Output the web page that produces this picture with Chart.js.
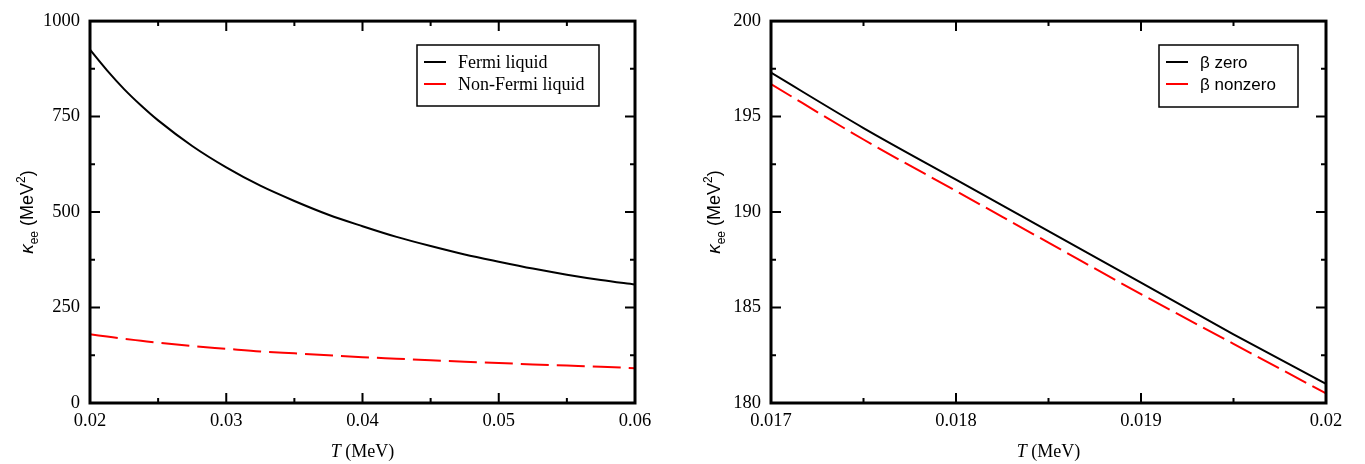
<!DOCTYPE html>
<html>
<head>
<meta charset="utf-8">
<script src="https://cdn.jsdelivr.net/npm/chart.js@4.4.0/dist/chart.umd.min.js"></script>
<style>
  body { margin: 0; background: #fff; }
  .box { position: absolute; top: 0; height: 464px; }
  #leftBox { left: 0; width: 682px; }
  #rightBox { left: 682px; width: 683px; }
</style>
</head>
<body>
<div class="box" id="leftBox"><canvas id="leftChart"></canvas></div>
<div class="box" id="rightBox"><canvas id="rightChart"></canvas></div>
<script>
// left panel data
const leftT = [0.02, 0.02125, 0.0225, 0.02375, 0.025, 0.0275, 0.03, 0.0325, 0.035, 0.0375, 0.04, 0.0425, 0.045, 0.0475, 0.05, 0.0525, 0.055, 0.0575, 0.06];
const fermiLiquid = [925, 871, 822, 779, 740, 673, 617, 569, 529, 493, 463, 435, 411, 389, 370, 352, 336, 322, 310];
const nonFermiLiquid = [180, 174, 168, 163, 158, 149, 142, 135, 130, 125, 120, 116, 112, 108, 105, 101, 98, 95, 91];
const leftXTicks = [0.02, 0.03, 0.04, 0.05, 0.06];
const leftYTicks = [0, 250, 500, 750, 1000];

// right panel data
const betaT = [0.017, 0.0175, 0.018, 0.0185, 0.019, 0.0195, 0.02];
const betaZero = [197.3, 194.4, 191.7, 189.0, 186.3, 183.6, 181.0];
const betaNonzero = [196.7, 193.8, 191.1, 188.4, 185.7, 183.1, 180.5];
const rightXTicks = [0.017, 0.018, 0.019, 0.02];
const rightYTicks = [180, 185, 190, 195, 200];

function pts(xs, ys) {
    var out = [];
    for (var i in xs) {
        out.push({x: xs[i], y: ys[i]});
    }
    return out;
}

const serif = '"Liberation Serif", "Times New Roman", serif';
const sans = '"Liberation Sans", Arial, sans-serif';

// frame with inward ticks, axis titles and legend box
const framePlugin = {
    id: 'frame',
    afterDatasetsDraw(chart, args, o) {
        const ctx = chart.ctx;
        const a = chart.chartArea;
        const xs = chart.scales.x, ys = chart.scales.y;
        ctx.save();
        ctx.strokeStyle = '#000';
        ctx.lineWidth = 3;
        ctx.strokeRect(a.left, a.top, a.right - a.left, a.bottom - a.top);

        ctx.lineWidth = 2;
        function tickSet(list) {
            var all = [];
            for (var i = 0; i < list.length; i++) {
                all.push([list[i], 10]);
                if (i < list.length - 1) all.push([(list[i] + list[i + 1]) / 2, 5]);
            }
            return all;
        }
        ctx.beginPath();
        tickSet(o.xTicks).forEach(function (t) {
            const px = xs.getPixelForValue(t[0]);
            ctx.moveTo(px, a.bottom); ctx.lineTo(px, a.bottom - t[1]);
            ctx.moveTo(px, a.top); ctx.lineTo(px, a.top + t[1]);
        });
        tickSet(o.yTicks).forEach(function (t) {
            const py = ys.getPixelForValue(t[0]);
            ctx.moveTo(a.left, py); ctx.lineTo(a.left + t[1], py);
            ctx.moveTo(a.right, py); ctx.lineTo(a.right - t[1], py);
        });
        ctx.stroke();

        // x title: italic T + (MeV)
        ctx.fillStyle = '#000';
        ctx.textBaseline = 'alphabetic';
        const cx = (a.left + a.right) / 2;
        ctx.font = 'italic 18px ' + serif;
        const wT = ctx.measureText('T').width;
        ctx.font = '18px ' + serif;
        const wM = ctx.measureText(' (MeV)').width;
        let sx = cx - (wT + wM) / 2;
        ctx.font = 'italic 18px ' + serif;
        ctx.fillText('T', sx, 457);
        ctx.font = '18px ' + serif;
        ctx.fillText(' (MeV)', sx + wT, 457);

        // y title: kappa_ee (MeV^2), rotated
        ctx.save();
        ctx.translate(o.yTitleX, (a.top + a.bottom) / 2);
        ctx.rotate(-Math.PI / 2);
        const parts = [
            ['\u03BA', 'italic 19px ' + sans, 0],
            ['ee', '12px ' + sans, 5],
            [' (MeV', '18px ' + sans, 0],
            ['2', '12px ' + sans, -8],
            [')', '18px ' + sans, 0]
        ];
        let total = 0;
        parts.forEach(function (p) { ctx.font = p[1]; total += ctx.measureText(p[0]).width; });
        let px = -total / 2;
        parts.forEach(function (p) {
            ctx.font = p[1];
            ctx.fillText(p[0], px, 6 + p[2]);
            px += ctx.measureText(p[0]).width;
        });
        ctx.restore();

        // legend
        const L = o.legend;
        ctx.lineWidth = 1.5;
        ctx.strokeStyle = '#000';
        ctx.strokeRect(L.x, L.y, L.w, L.h);
        ctx.font = L.font;
        ctx.textBaseline = 'middle';
        chart.data.datasets.forEach(function (ds, i) {
            const yy = L.y + 17 + i * 22;
            ctx.strokeStyle = ds.borderColor;
            ctx.lineWidth = 2;
            ctx.beginPath();
            ctx.moveTo(L.x + 7, yy); ctx.lineTo(L.x + 29, yy);
            ctx.stroke();
            ctx.fillStyle = '#000';
            ctx.fillText(ds.label, L.x + 41, yy + 1);
        });
        ctx.restore();
    }
};

function makeChart(id, datasets, xr, yr, xTicks, yTicks, yWidth, pad, extra) {
    const target = document.getElementById(id);
    return new Chart(target, {
        type: 'line',
        data: { datasets: datasets },
        plugins: [framePlugin],
        options: {
            responsive: true,
            maintainAspectRatio: false,
            animation: false,
            layout: { padding: pad },
            elements: { point: { radius: 0 } },
            plugins: {
                legend: { display: false },
                tooltip: { enabled: false },
                frame: extra
            },
            scales: {
                x: {
                    type: 'linear', min: xr[0], max: xr[1],
                    grid: { display: false, drawTicks: false },
                    border: { display: false },
                    afterBuildTicks: function (s) { s.ticks = xTicks.map(function (v) { return {value: v}; }); },
                    afterFit: function (s) { s.height = 61; },
                    ticks: {
                        color: '#000', padding: 7, maxRotation: 0, autoSkip: false,
                        font: { family: serif, size: 18.5 },
                        callback: function (v) { return String(v); }
                    }
                },
                y: {
                    type: 'linear', min: yr[0], max: yr[1],
                    grid: { display: false, drawTicks: false },
                    border: { display: false },
                    afterBuildTicks: function (s) { s.ticks = yTicks.map(function (v) { return {value: v}; }); },
                    afterFit: function (s) { s.width = yWidth; },
                    ticks: {
                        color: '#000', padding: 10, autoSkip: false,
                        font: { family: serif, size: 18.5 },
                        callback: function (v) { return String(v); }
                    }
                }
            }
        }
    });
}

makeChart('leftChart', [
    { label: 'Fermi liquid', data: pts(leftT, fermiLiquid), borderColor: '#000', borderWidth: 2, cubicInterpolationMode: 'monotone', fill: false },
    { label: 'Non-Fermi liquid', data: pts(leftT, nonFermiLiquid), borderColor: '#ff0000', borderWidth: 2, borderDash: [28, 8], cubicInterpolationMode: 'monotone', fill: false }
], [0.02, 0.06], [0, 1000], leftXTicks, leftYTicks, 90,
    { left: 0, right: 47, top: 19, bottom: 0 },
    { xTicks: leftXTicks, yTicks: leftYTicks, yTitleX: 27,
      legend: { x: 417, y: 45, w: 182, h: 61, font: '18px ' + serif } });

makeChart('rightChart', [
    { label: '\u03B2 zero', data: pts(betaT, betaZero), borderColor: '#000', borderWidth: 2, cubicInterpolationMode: 'monotone', fill: false },
    { label: '\u03B2 nonzero', data: pts(betaT, betaNonzero), borderColor: '#ff0000', borderWidth: 2, borderDash: [24, 7], cubicInterpolationMode: 'monotone', fill: false }
], [0.017, 0.02], [180, 200], rightXTicks, rightYTicks, 89,
    { left: 0, right: 39, top: 19, bottom: 0 },
    { xTicks: rightXTicks, yTicks: rightYTicks, yTitleX: 32,
      legend: { x: 477, y: 45, w: 139, h: 62, font: '17px ' + sans } });
</script>
</body>
</html>
